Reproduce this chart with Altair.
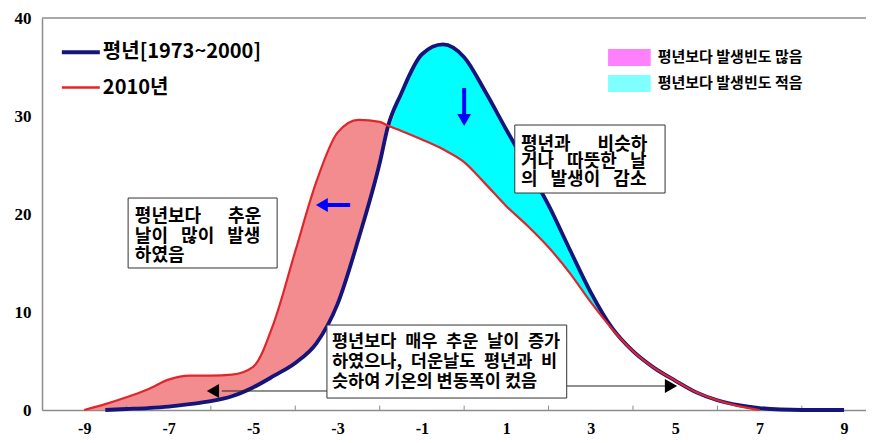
import altair as alt
import pandas as pd

# ---------------- data ----------------
temp_x = [-9, -8.5, -8, -7.5, -7, -6.5, -6, -5.5, -5, -4.5, -4, -3.5, -3, -2.5, -2, -1.8,
          -1.5, -1, -0.5, 0, 0.5, 1, 1.5, 2, 2.5, 3, 3.5, 4, 4.5, 5, 5.5, 6, 6.5, 7,
          7.5, 8, 8.5, 9]
normal_1973_2000 = [0, 0, 0.1, 0.2, 0.35, 0.6, 0.9, 1.4, 2.3, 3.5, 4.8, 6.8, 10.8, 17.5, 25.2, 29.0,
                    32.2, 36.3, 37.3, 36.0, 32.5, 28.6, 24.8, 20.9, 16.4, 12.0, 8.4, 6.0, 4.3, 3.0,
                    1.8, 1.0, 0.5, 0.2, 0.05, 0, 0, 0]
year_2010 = [0, 0.6, 1.3, 2.1, 3.1, 3.5, 3.5, 3.6, 4.4, 9.0, 16.2, 23.3, 28.3, 29.6, 29.4, 29.0,
             28.5, 27.6, 26.6, 25.3, 23.1, 20.8, 18.8, 16.6, 14.0, 11.0, 8.3, 6.0, 4.3, 3.0,
             1.8, 1.0, 0.4, 0, None, None, None, None]

x_label_values = [-9, -7, -5, -3, -1, 1, 3, 5, 7, 9]
x_tick_values = [-8, -6, -4, -2, 0, 2, 4, 6, 8]
y_label_values = [0, 10, 20, 30, 40]

series_names = ["평년[1973~2000]", "2010년"]
fill_names = ["평년보다 발생빈도 많음", "평년보다 발생빈도 적음"]

EN = "\u2002"   # en space (wide gap, as in the justified text of the boxes)
NB = "\u00a0"   # no-break space
box_texts = [
    ["평년보다" + EN * 3 + "추운", "날이" + EN + NB + "많이" + EN + NB + "발생", "하였음"],
    ["평년과" + EN * 3 + "비슷하", "거나" + EN + NB + "따뜻한" + EN + NB + "날", "의" + EN + NB + "발생이" + EN + NB + "감소"],
    ["평년보다" + EN + "매우" + EN + "추운" + EN + "날이" + EN + "증가",
     "하였으나," + EN + "더운날도" + EN + "평년과" + EN + "비",
     "슷하여 기온의 변동폭이 컸음"],
]
box_font_sizes = [18, 18, 17.5]

# ---------------- tables ----------------
df = pd.DataFrame({"x": temp_x, "normal": normal_1973_2000, "y2010": year_2010})
both = df.dropna().copy()
both["top"] = both[["normal", "y2010"]].max(axis=1)

blue_line = df[df["x"] >= -8.5]
red_line = df.dropna()

BLUE = "#14147a"
RED = "#e0262a"
PINK_FILL = "#f28c8e"
CYAN_FILL = "#00ffff"

X = alt.X("x:Q", scale=alt.Scale(domain=[-10, 9.52], nice=False, zero=False),
          axis=alt.Axis(values=x_label_values, title=None, grid=False, ticks=False,
                        labelExpr="'' + datum.value", labelPadding=10, labelFontSize=16,
                        domainColor="#8c8c8c", domainWidth=1.5))
Y = alt.Y("top:Q", scale=alt.Scale(domain=[0, 40], nice=False),
          axis=alt.Axis(values=y_label_values, title=None, grid=False, ticks=False,
                        labelPadding=11, labelFontSize=17,
                        domainColor="#8c8c8c", domainWidth=1.5))

pink = alt.Chart(both).mark_area(interpolate="monotone", color=PINK_FILL).encode(
    x=X, y=Y, y2="normal:Q")
cyan = alt.Chart(both).mark_area(interpolate="monotone", color=CYAN_FILL).encode(
    x="x:Q", y="top:Q", y2="y2010:Q")

blue = alt.Chart(blue_line).mark_line(interpolate="monotone", color=BLUE, strokeWidth=3.8).encode(
    x="x:Q", y="normal:Q")
red = alt.Chart(red_line).mark_line(interpolate="monotone", color=RED, strokeWidth=2.2).encode(
    x="x:Q", y="y2010:Q")

top_border = alt.Chart(pd.DataFrame({"y": [40]})).mark_rule(color="#8c8c8c", strokeWidth=1.5).encode(
    y="y:Q")

ticks = alt.Chart(pd.DataFrame({"x": x_tick_values, "y": [0] * len(x_tick_values),
                                "y2": [0.45] * len(x_tick_values)})).mark_rule(
    color="#8c8c8c", strokeWidth=1).encode(x="x:Q", y="y:Q", y2="y2:Q")

# legend (lines)
leg_lines = pd.DataFrame({"x": [-9.53, -9.53], "x2": [-8.63, -8.63], "y": [36.5, 32.9],
                          "name": series_names, "w": [4, 2.5]})
leg_line_marks = alt.Chart(leg_lines).mark_rule().encode(
    x="x:Q", x2="x2:Q", y="y:Q",
    color=alt.Color("name:N", scale=alt.Scale(domain=series_names, range=[BLUE, RED]), legend=None),
    strokeWidth=alt.StrokeWidth("w:Q", scale=None))
leg_line_text = alt.Chart(leg_lines).mark_text(
    align="left", baseline="middle", dx=3, font="Noto Sans CJK KR", fontWeight="bold",
    fontSize=20, color="black").encode(x="x2:Q", y="y:Q", text="name:N")

# legend (fills)
leg_fill = pd.DataFrame({"x": [3.41, 3.41], "x2": [4.42, 4.42], "y": [36.84, 34.18],
                         "y2": [35.1, 32.45], "ym": [35.97, 33.32], "name": fill_names})
leg_fill_marks = alt.Chart(leg_fill).mark_rect().encode(
    x="x:Q", x2="x2:Q", y="y:Q", y2="y2:Q",
    fill=alt.Fill("name:N", scale=alt.Scale(domain=fill_names, range=["#ff80ff", "#80ffff"]),
                  legend=None))
leg_fill_text = alt.Chart(leg_fill).mark_text(
    align="left", baseline="middle", dx=7, font="Noto Sans CJK KR", fontWeight="bold",
    fontSize=15, color="black").encode(x="x2:Q", y="ym:Q", text="name:N")

# annotation boxes
boxes = pd.DataFrame({"x": [-7.96, 1.20, -3.25], "x2": [-4.43, 4.76, 2.43],
                      "y": [21.63, 29.08, 8.67], "y2": [14.49, 22.14, 1.22]})
box_marks = alt.Chart(boxes).mark_rect(fill="white", stroke="#333333", strokeWidth=1).encode(
    x="x:Q", x2="x2:Q", y="y:Q", y2="y2:Q")

text_rows = []
box_left = [-7.80, 1.345, -3.13]
box_line_y = [[19.69, 17.65, 15.71], [27.04, 25.31, 23.47], [6.94, 4.90, 2.86]]
for b, lines in enumerate(box_texts):
    for i, t in enumerate(lines):
        text_rows.append({"x": box_left[b], "y": box_line_y[b][i], "t": t, "fs": box_font_sizes[b]})
box_text = alt.Chart(pd.DataFrame(text_rows)).mark_text(
    align="left", baseline="middle", font="Noto Sans CJK KR", fontWeight="bold",
    color="black").encode(x="x:Q", y="y:Q", text="t:N",
                          size=alt.Size("fs:Q", scale=None, legend=None))

# arrows
black_shafts = pd.DataFrame({"x": [-3.25, 2.43], "x2": [-5.74, 4.76], "y": [1.94, 2.45]})
black_shaft_marks = alt.Chart(black_shafts).mark_rule(color="#222222", strokeWidth=1).encode(
    x="x:Q", x2="x2:Q", y="y:Q")
black_heads = pd.DataFrame({"x": [-5.95, 4.90], "y": [1.94, 2.45],
                            "shape": ["triangle-left", "triangle-right"]})
black_head_marks = alt.Chart(black_heads).mark_point(filled=True, color="black", size=200, opacity=1).encode(
    x="x:Q", y="y:Q", shape=alt.Shape("shape:N", scale=None))

blue_shaft_h = alt.Chart(pd.DataFrame({"x": [-2.70], "x2": [-3.25], "y": [20.92]})).mark_rule(
    color="#0000ff", strokeWidth=4).encode(x="x:Q", x2="x2:Q", y="y:Q")
blue_shaft_v = alt.Chart(pd.DataFrame({"x": [0.0], "y": [32.86], "y2": [30.2]})).mark_rule(
    color="#0000ff", strokeWidth=4).encode(x="x:Q", y="y:Q", y2="y2:Q")
blue_heads = pd.DataFrame({"x": [-3.37, 0.0], "y": [20.92, 29.6],
                           "shape": ["triangle-left", "triangle-down"]})
blue_head_marks = alt.Chart(blue_heads).mark_point(filled=True, color="#0000ff", size=190, opacity=1).encode(
    x="x:Q", y="y:Q", shape=alt.Shape("shape:N", scale=None))

chart = alt.layer(
    pink, cyan, ticks, top_border, blue, red,
    black_shaft_marks, black_head_marks, box_marks, box_text,
    blue_shaft_h, blue_shaft_v, blue_head_marks,
    leg_line_marks, leg_line_text, leg_fill_marks, leg_fill_text,
).properties(
    width=824, height=392,
    autosize=alt.AutoSizeParams(type="none"),
    padding={"left": 34, "top": 10, "right": 0, "bottom": 25},
    background="white",
).configure_view(stroke=None).configure_axis(
    labelFont="Liberation Sans Narrow", labelFontWeight="bold",
    labelColor="black",
)

chart.save("out.html", embed_options={"renderer": "svg", "actions": False})
